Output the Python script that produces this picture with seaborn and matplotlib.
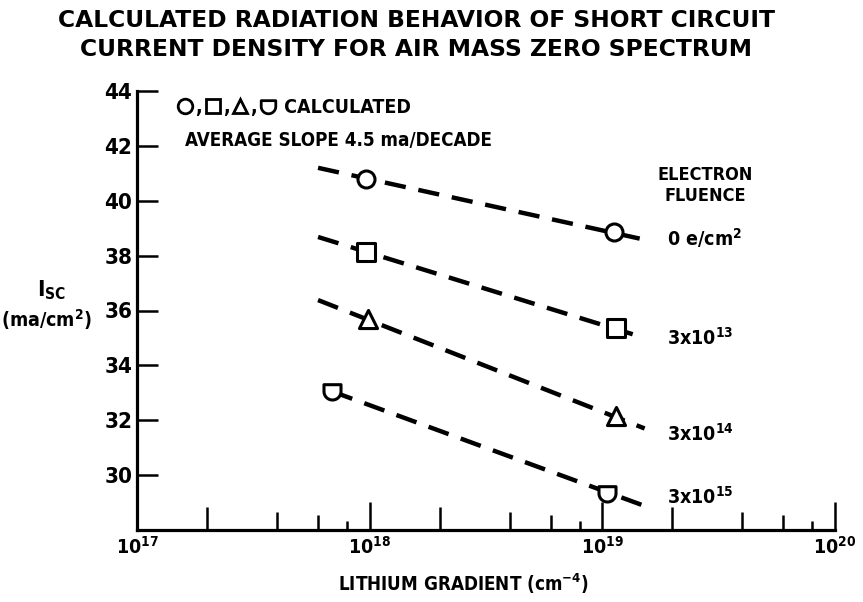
import numpy as np
import pandas as pd
import matplotlib
matplotlib.use("Agg")
import matplotlib.pyplot as plt
import seaborn as sns
from matplotlib import font_manager
from matplotlib.path import Path
from matplotlib.lines import Line2D
from matplotlib.ticker import FixedLocator, NullFormatter

# values
fluence_labels = ["0 e/cm$^2$", "3x10$^{13}$", "3x10$^{14}$", "3x10$^{15}$"]
marker_x = [[9.6e17, 1.12e19], [9.6e17, 1.15e19], [9.8e17, 1.15e19], [6.9e17, 1.05e19]]
marker_y = [[40.8, 38.85], [38.15, 35.35], [35.7, 32.15], [33.05, 29.35]]
line_x = [[6.0e17, 1.52e19], [6.0e17, 1.52e19], [6.0e17, 1.52e19], [6.9e17, 1.55e19]]
line_y = [[41.2, 38.58], [38.68, 35.0], [36.38, 31.7], [33.05, 28.85]]
label_y = [38.65, 35.0, 31.5, 29.2]
yticks = [30, 32, 34, 36, 38, 40, 42, 44]
xmajor = [1e17, 1e18, 1e19, 1e20]
xlabels = ["10$^{17}$", "10$^{18}$", "10$^{19}$", "10$^{20}$"]

# shield shaped marker (flat top, round bottom)
t = np.linspace(0, -np.pi, 24)
shield_verts = [(-1, 0.8), (1, 0.8)] + list(zip(np.cos(t), np.sin(t))) + [(-1, 0.8)]
shield = Path(shield_verts, closed=True)
markers = ["o", "s", "^", shield]

# pick a narrow font if one is around
fonts = font_manager.fontManager.ttflist
names = {f.name for f in fonts}
stretch = "normal"
if "Liberation Sans Narrow" in names:
    narrow = "Liberation Sans Narrow"
elif any(f.name == "DejaVu Sans" and f.stretch == "condensed" for f in fonts):
    narrow, stretch = "DejaVu Sans", "condensed"
else:
    narrow = "Roboto"

sns.set_style("ticks")
plt.rcParams["font.family"] = [narrow, "DejaVu Sans"]
plt.rcParams["font.stretch"] = stretch
plt.rcParams["font.weight"] = "bold"
plt.rcParams["axes.labelweight"] = "bold"
plt.rcParams["mathtext.fontset"] = "custom"
plt.rcParams["mathtext.rm"] = narrow + ":bold"
plt.rcParams["mathtext.default"] = "rm"
for k in ["text.color", "axes.labelcolor", "xtick.color", "ytick.color", "axes.edgecolor"]:
    plt.rcParams[k] = "black"

fig = plt.figure(figsize=(8.63, 6.02), dpi=100)
ax = fig.add_axes([137 / 863, 1 - 530 / 602, 698 / 863, (530 - 91) / 602])

for i in range(4):
    df_line = pd.DataFrame({"x": line_x[i], "y": line_y[i]})
    sns.lineplot(data=df_line, x="x", y="y", ax=ax, color="black", lw=3.2,
                 linestyle=(0, (4.8, 2.9)), sort=False, estimator=None)
    df_pts = pd.DataFrame({"x": marker_x[i], "y": marker_y[i]})
    sns.scatterplot(data=df_pts, x="x", y="y", ax=ax, marker=markers[i],
                    s=150 if i != 2 else 170, facecolor="white", edgecolor="black",
                    linewidth=2.2, zorder=5)
    ax.text(1.9e19, label_y[i], fluence_labels[i], fontsize=14,
            ha="left", va="center")

ax.text(2.77e19, 40.55, "ELECTRON\nFLUENCE", fontsize=13,
        ha="center", va="center", linespacing=1.25)

ax.set_xscale("log")
ax.set_xlim(1e17, 1e20)
ax.set_ylim(28, 44)
sns.despine(ax=ax)
for s in ["left", "bottom"]:
    ax.spines[s].set_linewidth(2.3)

ax.set_yticks(yticks)
ax.set_yticklabels([str(v) for v in yticks])
ax.tick_params(axis="y", left=True, direction="in", length=15, width=1.8, pad=3.5,
               labelsize=16)
ax.set_xticks(xmajor)
ax.set_xticklabels(xlabels)
ax.xaxis.set_minor_locator(FixedLocator([2e17, 2e18, 2e19]))
ax.xaxis.set_minor_formatter(NullFormatter())
ax.tick_params(axis="x", which="major", bottom=True, direction="in", length=20,
               width=1.8, pad=4, labelsize=14)
ax.tick_params(axis="x", which="minor", bottom=True, direction="in", length=16.5,
               width=1.8)

# shorter graph paper ticks at 4, 6, 8 per decade
for mult, ln in [(4, 13), (6, 10.5), (8, 6.5)]:
    sec = ax.secondary_xaxis(0)
    sec.set_xticks([mult * 10.0 ** k for k in (17, 18, 19)])
    sec.xaxis.set_minor_locator(FixedLocator([]))
    sec.set_xticklabels([])
    sec.tick_params(direction="in", length=ln, width=1.8)
    sec.spines["bottom"].set_visible(False)

ax.set_xlabel("LITHIUM GRADIENT (cm$^{-4}$)", fontsize=13.5)
ax.xaxis.set_label_coords(0.468, -0.095)
ax.set_ylabel("")
fig.text(52 / 863, 1 - 290 / 602, "I$_{SC}$", fontsize=16, ha="center", va="center")
fig.text(47 / 863, 1 - 320 / 602, "(ma/cm$^2$)", fontsize=14, ha="center", va="center")

fig.text(416 / 863, 1 - 35 / 602,
         "CALCULATED RADIATION BEHAVIOR OF SHORT CIRCUIT\nCURRENT DENSITY FOR AIR MASS ZERO SPECTRUM",
         family="DejaVu Sans", stretch="normal", fontsize=16.8, ha="center", va="center",
         linespacing=1.3)

handles = [Line2D([], [], ls="none", marker=m, markersize=10.5, mfc="white",
                  mec="black", mew=2) for m in markers]
fig.legend(handles, [",", ",", ",", " CALCULATED"], ncol=4, frameon=False,
           loc="upper left", bbox_to_anchor=(177 / 863, 1 - 98 / 602),
           handlelength=0.85, handletextpad=0.1, columnspacing=0.12,
           borderpad=0, borderaxespad=0, prop={"size": 14, "weight": "bold"})
fig.text(185 / 863, 1 - 140 / 602, "AVERAGE SLOPE 4.5 ma/DECADE", fontsize=13.5,
         ha="left", va="center")

fig.savefig("out.png", dpi=100)
